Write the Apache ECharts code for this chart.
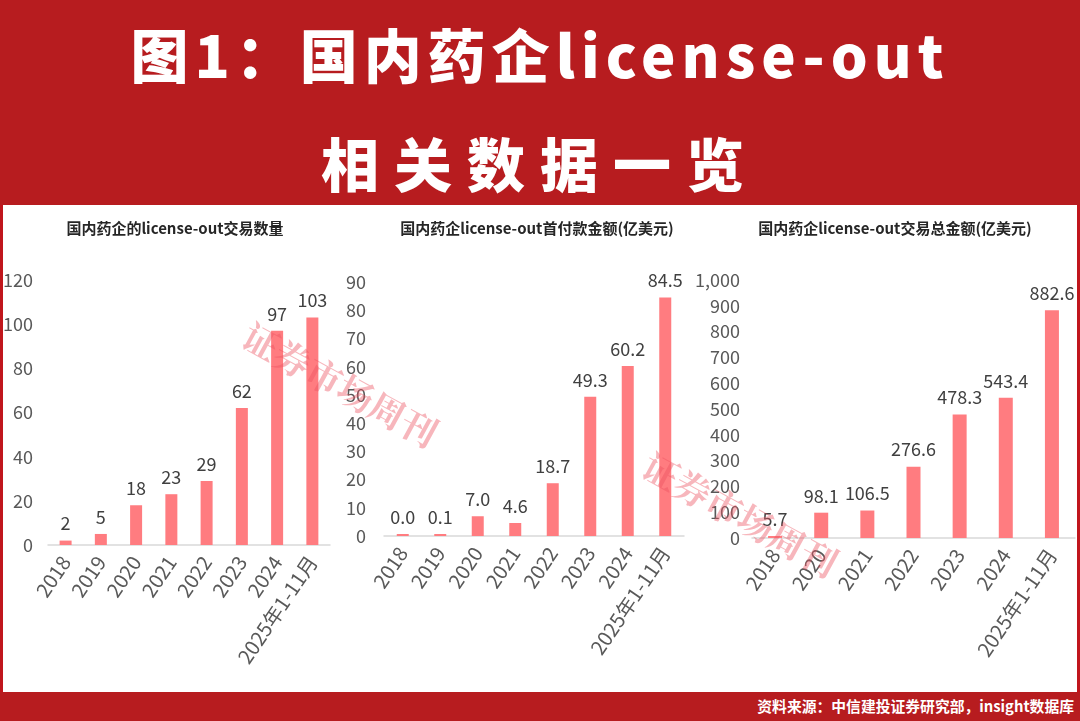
<!DOCTYPE html>
<html><head><meta charset="utf-8">
<script src="https://cdn.jsdelivr.net/npm/echarts@6/dist/echarts.min.js"></script>
<style>
html,body{margin:0;padding:0;width:1080px;height:721px;overflow:hidden;background:#fff;}
#hdr{position:absolute;left:0;top:0;width:1080px;height:205px;background:#B71C1F;}
.t{position:absolute;left:0;width:1080px;text-align:center;color:#fff;font-family:"Noto Sans CJK SC","Noto Sans",sans-serif;font-weight:900;font-size:58px;line-height:70px;letter-spacing:6px;}
#panel{position:absolute;left:0;top:205px;width:1074px;height:487px;border-left:3px solid #C0161C;border-right:3px solid #C0161C;background:#fff;}
#ftr{position:absolute;left:0;top:692px;width:1080px;height:29px;background:#B71C1F;}
#src{position:absolute;right:6px;top:4px;color:#fff;font-family:"Noto Sans CJK SC",sans-serif;font-weight:700;font-size:14.8px;line-height:20px;}
#chart{position:absolute;left:0;top:0;width:1080px;height:721px;}
</style></head>
<body>
<div id="hdr">
<div class="t" style="top:18px;">图1：国内药企license-out</div>
<div class="t" style="top:127px;letter-spacing:15px;">相关数据一览</div>
</div>
<div id="panel"></div>
<div id="ftr"><div id="src">资料来源：中信建投证券研究部，insight数据库</div></div>
<div id="chart"></div>
<script>
const cats1 = ['2018','2019','2020','2021','2022','2023','2024','2025年1-11月'];
const dealCount = [2,5,18,23,29,62,97,103];
const cats2 = ['2018','2019','2020','2021','2022','2023','2024','2025年1-11月'];
const upfrontValue = [0.0,0.1,7.0,4.6,18.7,49.3,60.2,84.5];
const cats3 = ['2018','2020','2021','2022','2023','2024','2025年1-11月'];
const totalValue = [5.7,98.1,106.5,276.6,478.3,543.4,882.6];
const titles = ['国内药企的license-out交易数量','国内药企license-out首付款金额(亿美元)','国内药企license-out交易总金额(亿美元)'];

const NUMF = "'Liberation Sans Narrow','Noto Sans CJK SC',sans-serif";
const BAR = '#FF7C80';
const chart = echarts.init(document.getElementById('chart'), null, {renderer:'canvas'});

function xAxis(idx, cats){
  return {gridIndex:idx,type:'category',data:cats,
    axisLine:{lineStyle:{color:'#D9D9D9',width:1.5}},axisTick:{show:false},
    axisLabel:{rotate:56,interval:0,color:'#595959',fontFamily:NUMF,fontSize:20,margin:13}};
}
function yAxis(idx,max,interval,margin,fmt){
  return {gridIndex:idx,type:'value',min:0,max:max,interval:interval,
    axisLine:{show:false},axisTick:{show:false},splitLine:{show:false},
    axisLabel:{color:'#595959',fontFamily:NUMF,fontSize:18,margin:margin,formatter:fmt}};
}
function series(idx,data,bw,fmt){
  return {type:'bar',xAxisIndex:idx,yAxisIndex:idx,data:data,barWidth:bw,barMinHeight:2,
    itemStyle:{color:BAR},
    label:{show:true,position:'top',distance:8,color:'#404040',fontFamily:NUMF,fontSize:18,formatter:fmt}};
}
const one = p => Number(p.value).toFixed(1);
const tStyle = {fontFamily:'Noto Sans CJK SC',fontWeight:'bold',fontSize:15,color:'#262626'};

chart.setOption({
  animation:false,
  title:[
    {text:titles[0],left:170,top:216,textAlign:'center',textStyle:tStyle},
    {text:titles[1],left:532,top:216,textAlign:'center',textStyle:tStyle},
    {text:titles[2],left:890,top:216,textAlign:'center',textStyle:tStyle}
  ],
  grid:[
    {left:46,width:284,top:280,height:265},
    {left:384,width:300,top:282,height:254},
    {left:752,width:323,top:280,height:258}
  ],
  xAxis:[xAxis(0,cats1),xAxis(1,cats2),xAxis(2,cats3)],
  yAxis:[
    yAxis(0,120,20,15),
    yAxis(1,90,10,18),
    yAxis(2,1000,100,12,v=>v.toLocaleString('en-US'))
  ],
  series:[
    series(0,dealCount,12),
    series(1,upfrontValue,12,one),
    series(2,totalValue,14,one)
  ],
  graphic:[
    {type:'text',x:340,y:385,rotation:-0.5,z:100,silent:true,
     style:{text:'证券市场周刊',fontSize:36,fontWeight:'bold',fontFamily:'Noto Serif CJK SC, Noto Sans CJK SC',fill:'rgba(235,80,95,0.42)',align:'center',verticalAlign:'middle'}},
    {type:'text',x:740,y:515,rotation:-0.5,z:100,silent:true,
     style:{text:'证券市场周刊',fontSize:36,fontWeight:'bold',fontFamily:'Noto Serif CJK SC, Noto Sans CJK SC',fill:'rgba(235,80,95,0.42)',align:'center',verticalAlign:'middle'}}
  ]
});
</script>
</body></html>
